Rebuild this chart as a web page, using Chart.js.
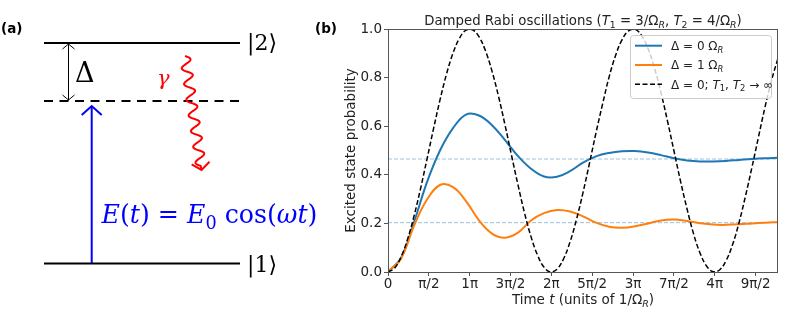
<!DOCTYPE html>
<html>
<head>
<meta charset="utf-8">
<script src="https://cdn.jsdelivr.net/npm/chart.js@4.4.0/dist/chart.umd.min.js"></script>
<style>
  html, body { margin: 0; padding: 0; background: #fff; }
  #wrap { width: 792px; height: 322px; }
</style>
</head>
<body>
<div id="wrap"><canvas id="rabi" width="792" height="322"></canvas></div>
<script>
// time samples (units of 1/Omega_R)
const timeFine = [0, 0.25, 0.5, 0.75, 1, 1.25, 1.5, 1.75, 2, 2.25, 2.5, 2.75, 3, 3.25, 3.5, 3.75,
  4, 4.25, 4.5, 4.75, 5, 5.25, 5.5, 5.75, 6, 6.25, 6.5, 6.75, 7, 7.25, 7.5, 7.75,
  8, 8.25, 8.5, 8.75, 9, 9.25, 9.5, 9.75, 10, 10.25, 10.5, 10.75, 11, 11.25, 11.5, 11.75,
  12, 12.25, 12.5, 12.75, 13, 13.25, 13.5, 13.75, 14, 14.25, 14.5, 14.75, 15];
const timeCoarse = [0, 0.5, 1, 1.5, 2, 2.5, 3, 3.5, 4, 4.5, 5, 5.5, 6, 6.5, 7, 7.5,
  8, 8.5, 9, 9.5, 10, 10.5, 11, 11.5, 12, 12.5, 13, 13.5, 14, 14.5, 15];

// undamped, resonant (dashed black)
const probUndamped = [0, 0.0155, 0.0612, 0.1342, 0.2298, 0.3423, 0.4646, 0.5891, 0.7081, 0.8141,
  0.9006, 0.9622, 0.995, 0.997, 0.9682, 0.9101, 0.8268, 0.7232, 0.6054, 0.4805, 0.3582, 0.2433,
  0.1457, 0.0695, 0.0199, 0.0003, 0.0117, 0.0537, 0.1231, 0.2166, 0.3267, 0.4481, 0.5728, 0.6899,
  0.8011, 0.8904, 0.9556, 0.9924, 0.9986, 0.974, 0.9195, 0.8392, 0.7377, 0.621, 0.4977, 0.374,
  0.2601, 0.158, 0.0781, 0.0249, 0.0011, 0.0084, 0.0463, 0.1118, 0.2025, 0.3129, 0.4316, 0.5558,
  0.6783, 0.7882, 0.8799];

// damped, Delta = 0 (blue)
const probDelta0 = [0, 0.058, 0.205, 0.37, 0.5, 0.592, 0.648, 0.644, 0.604, 0.543, 0.477, 0.425,
  0.393, 0.392, 0.415, 0.45, 0.476, 0.49, 0.497, 0.498, 0.492, 0.481, 0.468, 0.459, 0.455, 0.455,
  0.457, 0.461, 0.465, 0.468, 0.47];

// damped, Delta = 1 (orange)
const probDelta1 = [0, 0.055, 0.19, 0.298, 0.358, 0.349, 0.292, 0.212, 0.158, 0.141, 0.162, 0.212,
  0.242, 0.255, 0.249, 0.229, 0.203, 0.186, 0.182, 0.188, 0.2, 0.212, 0.216, 0.21, 0.201, 0.195,
  0.194, 0.196, 0.2, 0.203, 0.205];

const steadyDelta0 = 0.465;
const steadyDelta1 = 0.203;

const xTickLabels = ['0', 'π/2', '1π', '3π/2', '2π', '5π/2', '3π', '7π/2', '4π', '9π/2'];
const yTicks = [0, 0.2, 0.4, 0.6, 0.8, 1.0];

const SANS = '"DejaVu Sans", sans-serif';
const SERIF = '"DejaVu Serif", "Liberation Serif", serif';
const BLUE = '#1f77b4';
const ORANGE = '#ff7f0e';
const AXFONT = 13.5;

Chart.defaults.font.family = SANS;
Chart.defaults.color = '#222';

function pts(xs, ys) {
  return xs.map((x, i) => ({ x: x, y: ys[i] }));
}

// text with italic / subscript pieces: [text, style], style may hold i (italic), s (sub), b (bold)
function richFont(st, size, family) {
  const sz = st.indexOf('s') >= 0 ? size * 0.7 : size;
  return (st.indexOf('i') >= 0 ? 'italic ' : '') + (st.indexOf('b') >= 0 ? 'bold ' : '') + sz + 'px ' + family;
}
function richWidth(ctx, parts, size, family) {
  let w = 0;
  ctx.save();
  parts.forEach(p => { ctx.font = richFont(p[1] || '', size, family); w += ctx.measureText(p[0]).width; });
  ctx.restore();
  return w;
}
function drawRich(ctx, parts, x, y, size, family, align, color) {
  const w = richWidth(ctx, parts, size, family);
  ctx.save();
  ctx.fillStyle = color;
  ctx.textAlign = 'left';
  ctx.textBaseline = 'alphabetic';
  let cx = align === 'center' ? x - w / 2 : (align === 'right' ? x - w : x);
  parts.forEach(p => {
    const st = p[1] || '';
    ctx.font = richFont(st, size, family);
    ctx.fillText(p[0], cx, y + (st.indexOf('s') >= 0 ? size * 0.22 : 0));
    cx += ctx.measureText(p[0]).width;
  });
  ctx.restore();
  return w;
}

function seg(ctx, x1, y1, x2, y2) {
  ctx.beginPath();
  ctx.moveTo(x1, y1);
  ctx.lineTo(x2, y2);
  ctx.stroke();
}
function head(ctx, tx, ty, dx, dy, len, half) {
  // open arrow head, tip at (tx,ty), pointing along (dx,dy)
  const nx = -dy, ny = dx;
  ctx.beginPath();
  ctx.moveTo(tx - dx * len + nx * half, ty - dy * len + ny * half);
  ctx.quadraticCurveTo(tx - dx * len * 0.3 + nx * half * 0.3, ty - dy * len * 0.3 + ny * half * 0.3, tx, ty);
  ctx.quadraticCurveTo(tx - dx * len * 0.3 - nx * half * 0.3, ty - dy * len * 0.3 - ny * half * 0.3, tx - dx * len - nx * half, ty - dy * len - ny * half);
  ctx.stroke();
}

// panel (a): level scheme
function drawLevels(ctx) {
  ctx.save();
  ctx.lineCap = 'butt';
  ctx.strokeStyle = '#000';
  ctx.lineWidth = 2;
  seg(ctx, 44, 43, 240, 43);
  seg(ctx, 44, 263.5, 240, 263.5);
  ctx.setLineDash([9, 6.5]);
  seg(ctx, 44, 101, 240, 101);
  ctx.setLineDash([]);

  // detuning arrow
  ctx.lineWidth = 1;
  seg(ctx, 68.5, 44, 68.5, 100);
  head(ctx, 68.5, 44, 0, -1, 5, 6);
  head(ctx, 68.5, 100, 0, 1, 5, 6);

  // drive arrow
  ctx.strokeStyle = '#0000ff';
  ctx.lineWidth = 2;
  seg(ctx, 91.7, 263, 91.7, 107);
  head(ctx, 91.7, 106, 0, -1, 9, 10);

  // spontaneous decay
  ctx.strokeStyle = '#ff0000';
  ctx.lineJoin = 'round';
  const x0 = 185, y0 = 56, x1 = 201, y1 = 166;
  const L = Math.hypot(x1 - x0, y1 - y0);
  const ux = (x1 - x0) / L, uy = (y1 - y0) / L;
  const wave = L / 7;
  ctx.beginPath();
  for (let s = 0; s <= L + 0.01; s += 0.5) {
    const off = -5 * Math.sin(2 * Math.PI * s / wave);
    const px = x0 + ux * s - uy * off, py = y0 + uy * s + ux * off;
    if (s === 0) ctx.moveTo(px, py); else ctx.lineTo(px, py);
  }
  ctx.lineTo(x1 + ux * 4, y1 + uy * 4);
  ctx.stroke();
  ctx.lineJoin = 'miter';
  ctx.beginPath();
  ctx.moveTo(x1 + ux * 4 - ux * 7 - uy * 9, y1 + uy * 4 - uy * 7 + ux * 9);
  ctx.lineTo(x1 + ux * 4, y1 + uy * 4);
  ctx.lineTo(x1 + ux * 4 - ux * 7 + uy * 9, y1 + uy * 4 - uy * 7 - ux * 9);
  ctx.stroke();
  ctx.restore();

  drawRich(ctx, [['|2⟩']], 247, 50, 22, SERIF, 'left', '#000');
  drawRich(ctx, [['|1⟩']], 247, 271.5, 22, SERIF, 'left', '#000');
  drawRich(ctx, [['Δ']], 75, 82, 27, SERIF, 'left', '#000');
  drawRich(ctx, [['γ', 'i']], 157, 85, 21, SERIF, 'left', '#ff0000');
  const field = [['E', 'i'], ['('], ['t', 'i'], [')'], [' = '], ['E', 'i'], ['0', 's'], [' cos('], ['ω', 'i'], ['t', 'i'], [')']];
  const fsize = 22 * 216 / richWidth(ctx, field, 22, SERIF);
  drawRich(ctx, field, 101.5, 223, fsize, SERIF, 'left', '#0000ff');
}

const decorations = {
  id: 'decorations',
  afterDraw(chart) {
    const ctx = chart.ctx;
    const a = chart.chartArea;

    // frame
    ctx.save();
    ctx.strokeStyle = '#555';
    ctx.lineWidth = 1;
    ctx.strokeRect(a.left + 0.5, a.top + 0.5, a.right - a.left - 1, a.bottom - a.top);
    ctx.restore();

    // title and x-axis label
    drawRich(ctx, [['Damped Rabi oscillations ('], ['T', 'i'], ['1', 's'], [' = 3/Ω'], ['R', 'si'],
      [', '], ['T', 'i'], ['2', 's'], [' = 4/Ω'], ['R', 'si'], [')']],
      (a.left + a.right) / 2, 25, 13.3, SANS, 'center', '#222');
    drawRich(ctx, [['Time '], ['t', 'i'], [' (units of 1/Ω'], ['R', 'si'], [')']],
      (a.left + a.right) / 2, 304, AXFONT, SANS, 'center', '#222');

    // legend
    ctx.save();
    ctx.fillStyle = 'rgba(255,255,255,0.8)';
    ctx.strokeStyle = '#cccccc';
    ctx.lineWidth = 1;
    ctx.beginPath();
    ctx.roundRect(630.5, 35.5, 141, 63, 3);
    ctx.fill();
    ctx.stroke();
    const rows = [
      { color: BLUE, dash: [], y: 45.7, text: [['Δ = 0 Ω'], ['R', 'si']] },
      { color: ORANGE, dash: [], y: 65, text: [['Δ = 1 Ω'], ['R', 'si']] },
      { color: '#000', dash: [5, 2.5], y: 84.3, text: [['Δ = 0; '], ['T', 'i'], ['1', 's'], [', '], ['T', 'i'], ['2', 's'], [' → ∞']] }
    ];
    rows.forEach(r => {
      ctx.strokeStyle = r.color;
      ctx.lineWidth = r.dash.length ? 1.5 : 2;
      ctx.setLineDash(r.dash);
      seg(ctx, 635, r.y, 662, r.y);
      ctx.setLineDash([]);
      drawRich(ctx, r.text, 671, r.y + 4.3, 12, SANS, 'left', '#222');
    });
    ctx.restore();

    // panel letters
    drawRich(ctx, [['(a)', 'b']], 1, 33, 13.5, SANS, 'left', '#000');
    drawRich(ctx, [['(b)', 'b']], 315, 33, 13.5, SANS, 'left', '#000');

    drawLevels(ctx);
  }
};

new Chart(document.getElementById('rabi').getContext('2d'), {
  type: 'line',
  data: {
    datasets: [
      {
        label: 'Δ = 0; T1, T2 → ∞',
        data: pts(timeFine, probUndamped),
        borderColor: '#000',
        borderWidth: 1.5,
        borderDash: [5, 2.5],
        order: 0
      },
      {
        label: 'Δ = 1 ΩR',
        data: pts(timeCoarse, probDelta1),
        borderColor: ORANGE,
        borderWidth: 2,
        order: 1
      },
      {
        label: 'Δ = 0 ΩR',
        data: pts(timeCoarse, probDelta0),
        borderColor: BLUE,
        borderWidth: 2,
        order: 2
      },
      {
        label: 'steady Δ = 0',
        data: [{ x: 0, y: steadyDelta0 }, { x: 15, y: steadyDelta0 }],
        borderColor: 'rgba(31,119,180,0.45)',
        borderWidth: 1,
        borderDash: [4, 2],
        tension: 0,
        order: 3
      },
      {
        label: 'steady Δ = 1',
        data: [{ x: 0, y: steadyDelta1 }, { x: 15, y: steadyDelta1 }],
        borderColor: 'rgba(31,119,180,0.45)',
        borderWidth: 1,
        borderDash: [4, 2],
        tension: 0,
        order: 3
      }
    ]
  },
  options: {
    responsive: false,
    animation: false,
    devicePixelRatio: 1,
    layout: { padding: { left: 330, right: 14, top: 29, bottom: 0 } },
    elements: { point: { radius: 0 }, line: { tension: 0.4, fill: false } },
    plugins: {
      legend: { display: false },
      title: { display: false },
      tooltip: { enabled: false }
    },
    scales: {
      x: {
        type: 'linear',
        min: 0,
        max: 15,
        afterBuildTicks: axis => { axis.ticks = xTickLabels.map((l, i) => ({ value: i * Math.PI / 2 })); },
        afterFit: axis => { axis.height = 50; },
        ticks: {
          callback: (v, i) => xTickLabels[i],
          autoSkip: false,
          maxRotation: 0,
          padding: 0,
          font: { size: AXFONT }
        },
        grid: { drawOnChartArea: false, tickLength: 4, color: '#555' },
        border: { display: false }
      },
      y: {
        min: 0,
        max: 1,
        afterBuildTicks: axis => { axis.ticks = yTicks.map(v => ({ value: v })); },
        afterFit: axis => { axis.width = 58; },
        ticks: {
          callback: v => v.toFixed(1),
          padding: 2,
          font: { size: AXFONT }
        },
        grid: { drawOnChartArea: false, tickLength: 4, color: '#555' },
        border: { display: false },
        title: {
          display: true,
          text: 'Excited state probability',
          padding: { top: 13, bottom: 0 },
          font: { size: AXFONT }
        }
      }
    }
  },
  plugins: [decorations]
});
</script>
</body>
</html>
